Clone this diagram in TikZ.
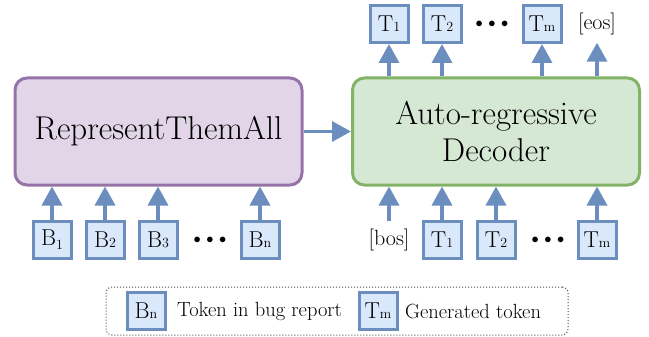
\documentclass[tikz,border=0pt]{standalone}
\usepackage{fontspec}
\usetikzlibrary{arrows.meta}
\definecolor{tokline}{HTML}{6C8EBF}
\definecolor{tokfill}{HTML}{DAE8FC}
\definecolor{encline}{HTML}{9673A6}
\definecolor{encfill}{HTML}{E1D5E7}
\definecolor{decline}{HTML}{82B366}
\definecolor{decfill}{HTML}{D5E8D4}
\newcommand\tsub[1]{{\fontsize{14}{14}\selectfont #1}}
\begin{document}
\begin{tikzpicture}[x=1pt,y=-1pt,
  bigbox/.style={draw, rounded corners=12pt, line width=3pt,
    minimum width=287pt, minimum height=107pt, inner sep=0pt,
    align=center, font=\fontsize{33}{37}\selectfont},
  tok/.style={draw=tokline, fill=tokfill, line width=3pt, inner sep=0pt,
    minimum width=38pt, minimum height=37pt, font=\fontsize{23}{23}\selectfont},
  ghost/.style={inner sep=0pt, minimum height=37pt, font=\fontsize{22}{22}\selectfont},
  dots/.style={inner sep=0pt, font=\fontsize{14}{14}\selectfont},
  flow/.style={draw=tokline, line width=3.5pt,
    -{Triangle[width=20pt,length=19pt]}},
  legtext/.style={inner sep=0pt, font=\fontsize{20.5}{20.5}\selectfont, anchor=west}
]
\useasboundingbox (0,0) rectangle (649,337);

% encoder and decoder
\node[bigbox, draw=encline, fill=encfill] (enc) at (158.5,131.5) {RepresentThemAll};
\node[bigbox, draw=decline, fill=decfill] (dec) at (496,131.5) {Auto-regressive\\Decoder};
\draw[flow] (enc.east) -- (dec.west);

% bug report tokens
\node[tok] (b1) at (52,240) {B\raisebox{-4pt}{\tsub{1}}};
\node[tok] (b2) at (105,240) {B\tsub{2}};
\node[tok] (b3) at (158,240) {B\tsub{3}};
\node[dots] (bd) at (210,240) {$\bullet\,\bullet\,\bullet$};
\node[tok] (bn) at (260,240) {B\tsub{n}};
\foreach \t in {b1,b2,b3,bn} \draw[flow] (\t.north) -- (\t.north |- enc.south);

% decoder input tokens
\node[ghost] (bos) at (389,240) {[bos]};
\node[tok] (i1) at (442,240) {T\tsub{1}};
\node[tok] (i2) at (496,240) {T\tsub{2}};
\node[dots] (id) at (548,240) {$\bullet\,\bullet\,\bullet$};
\node[tok] (im) at (597,240) {T\tsub{m}};
\foreach \t in {bos,i1,i2,im} \draw[flow] (\t.north) -- (\t.north |- dec.south);

% generated tokens
\node[tok] (o1) at (389,24) {T\tsub{1}};
\node[tok] (o2) at (442,24) {T\tsub{2}};
\node[dots] (od) at (492,24) {$\bullet\,\bullet\,\bullet$};
\node[tok] (om) at (542,24) {T\tsub{m}};
\node[ghost] (eos) at (597,24) {[eos]};
\foreach \t in {o1,o2,om,eos} \draw[flow] (\t.south |- dec.north) -- (\t.south);

% legend
\node[draw=black!70, dotted, line width=1pt, rounded corners=6pt,
  minimum width=462pt, minimum height=48pt] (leg) at (337,311) {};
\node[tok] (lb) at (146,311) {B\tsub{n}};
\node[legtext] (lbt) at (177,311) {Token in bug report};
\node[tok] (lt) at (378,311) {T\tsub{m}};
\node[legtext] (ltt) at (405,311) {Generated token};
\end{tikzpicture}
\end{document}
